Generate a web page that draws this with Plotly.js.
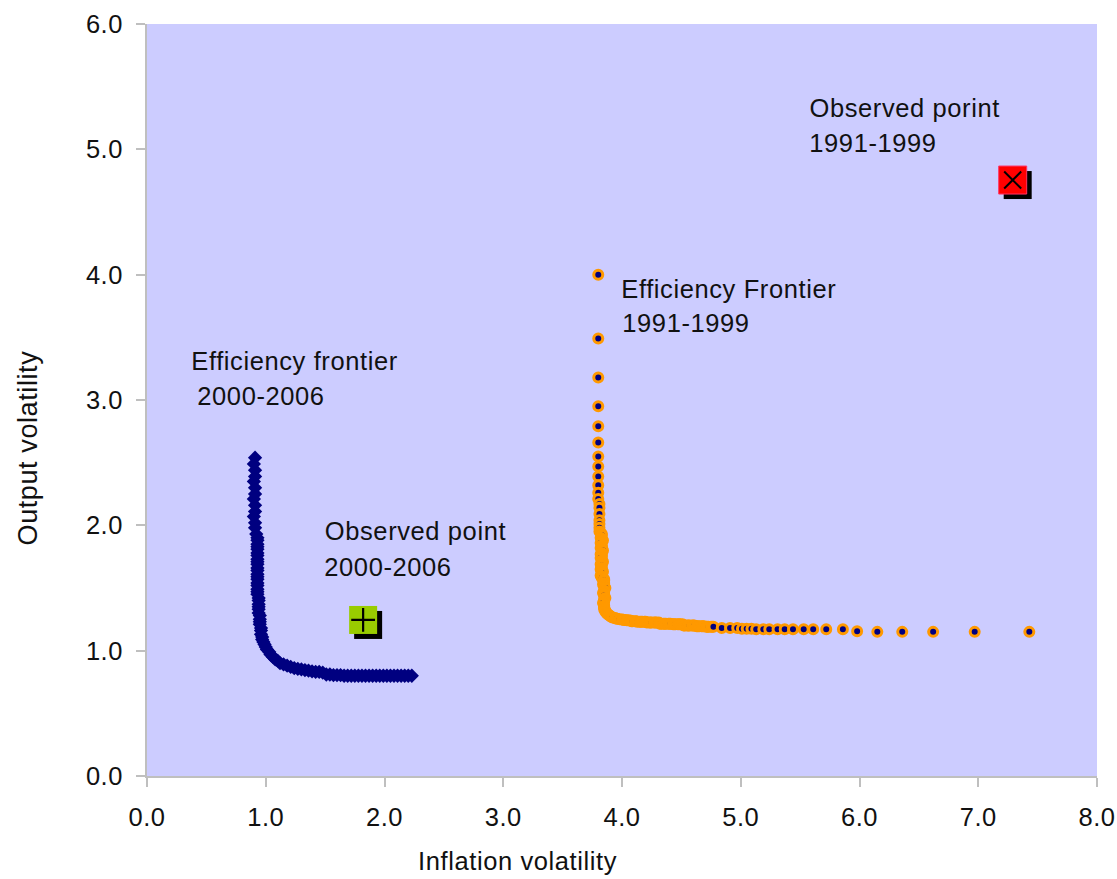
<!DOCTYPE html>
<html>
<head>
<meta charset="utf-8">
<script src="https://cdn.plot.ly/plotly-3.0.1.min.js"></script>
<style>
  html, body { margin: 0; padding: 0; background: #ffffff; }
  #chart { width: 1117px; height: 879px; }
  #chart .annotation-text { letter-spacing: 0.6px; }
  #chart .xtick text, #chart .ytick text { letter-spacing: 0.5px; }
</style>
</head>
<body>
<div id="chart"></div>
<script>
// ---------------- DATA ----------------
// Efficiency frontier 2000-2006 (navy diamonds)
const frontier0006X = [
  0.91,0.90,0.91,0.91,0.90,0.91,0.91,0.90,0.91,0.91,0.90,0.91,0.91,0.92,
  0.93,0.93,0.93,0.93,0.93,0.93,0.93,0.93,0.93,0.93,0.93,0.93,0.93,0.93,0.93,0.93,0.93,0.93,0.93,0.93,
  0.94,0.94,0.94,0.94,0.94,0.94,0.95,0.95,0.95,0.95,0.96,0.96,0.96,0.97,0.97,
  0.98,0.99,1.00,1.01,1.03,1.04,1.06,1.08,1.10,1.12,1.15,1.18,1.21,1.24,1.27,1.30,1.33,1.36,1.39,1.42,1.45,
  1.48,1.51,1.54,1.57,1.60,1.63,1.66,1.69,1.72,1.75,1.78,1.81,1.84,1.87,1.90,1.93,1.96,1.99,2.02,2.05,2.08,2.11,2.14,2.17,2.20,2.23
];
const frontier0006Y = [
  2.54,2.49,2.44,2.39,2.35,2.30,2.25,2.21,2.16,2.11,2.07,2.02,1.98,1.93,
  1.90,1.88,1.85,1.83,1.81,1.78,1.76,1.73,1.71,1.69,1.66,1.64,1.61,1.59,1.57,1.54,1.52,1.49,1.47,1.45,
  1.42,1.40,1.37,1.35,1.33,1.30,1.28,1.25,1.23,1.21,1.18,1.16,1.13,1.11,1.09,
  1.07,1.05,1.03,1.01,0.99,0.97,0.95,0.93,0.92,0.90,0.89,0.88,0.87,0.86,0.855,0.85,0.845,0.84,0.835,0.83,0.83,
  0.825,0.81,0.81,0.805,0.805,0.805,0.80,0.80,0.80,0.80,0.80,0.80,0.80,0.80,0.80,0.80,0.80,0.80,0.80,0.80,0.80,0.80,0.80,0.80,0.80,0.80
];

// Efficiency frontier 1991-1999 (navy dots, orange rim)
// upper branch, read from the top down to the corner
const frontier9199UpperX = [
  3.80,3.80,3.80,3.80,3.80,3.80,3.80,3.80,3.80,3.80,3.80,3.80,3.81,3.81,3.81,3.81,3.81,3.81,3.81,
  3.82,3.83,3.83,3.82,3.83,3.84,3.83,3.82,3.83,3.83,3.82,3.83,3.84,3.83,3.82,3.83,3.83,3.82,3.83,3.84,3.83,3.82,3.83,3.83,3.82,3.83,3.84,3.83,3.82,3.83,3.83,
  3.85,3.85,3.85,3.84,3.85,3.85,3.86,3.85,3.85,3.84,3.85,3.85,3.86,3.85,3.85,3.85,3.84,3.85,3.85,3.85,
  3.85,3.86,3.86,3.87,3.88,3.89,3.90,3.91,3.92,3.94,3.95,3.96,3.98,4.00,4.01,4.02,4.04,4.05,4.07
];
const frontier9199UpperY = [
  4.00,3.49,3.18,2.95,2.79,2.66,2.55,2.47,2.39,2.32,2.26,2.21,2.17,2.14,2.09,2.04,2.01,1.98,1.95,
  1.94,1.93,1.92,1.90,1.89,1.88,1.87,1.86,1.84,1.83,1.82,1.81,1.80,1.78,1.77,1.76,1.75,1.74,1.72,1.71,1.70,1.69,1.68,1.66,1.65,1.64,1.63,1.62,1.60,1.59,1.58,
  1.57,1.56,1.54,1.53,1.52,1.51,1.50,1.48,1.47,1.46,1.45,1.44,1.42,1.41,1.40,1.39,1.38,1.36,1.35,1.34,
  1.33,1.32,1.31,1.30,1.29,1.285,1.277,1.27,1.265,1.26,1.257,1.254,1.25,1.249,1.247,1.245,1.243,1.242,1.24
];
// lower branch, read from the corner out to the far right
const frontier9199LowerX = [
  4.08,4.09,4.11,4.12,4.13,4.15,4.16,4.17,4.19,4.20,4.21,4.23,4.24,4.25,4.27,4.28,4.29,4.31,
  4.32,4.33,4.35,4.36,4.37,4.39,4.40,4.41,4.43,4.44,4.45,4.47,4.48,4.49,4.51,4.52,4.53,4.55,4.56,
  4.57,4.59,4.60,4.61,4.63,4.64,4.65,4.67,4.68,4.69,4.71,4.72,4.73,4.75,4.76,4.77,
  4.84,4.91,4.97,5.01,5.05,5.09,5.13,5.19,5.24,5.31,5.37,5.44,5.53,5.61,5.72,5.86,5.98,6.15,6.36,6.62,6.97,7.43
];
const frontier9199LowerY = [
  1.235,1.235,1.235,1.235,1.23,1.23,1.23,1.23,1.23,1.23,1.225,1.225,1.225,1.225,1.225,1.225,1.225,1.225,
  1.215,1.215,1.215,1.215,1.215,1.215,1.215,1.215,1.21,1.21,1.21,1.21,1.21,1.21,1.21,1.20,1.20,1.20,1.20,
  1.20,1.20,1.20,1.20,1.195,1.195,1.195,1.195,1.195,1.195,1.19,1.19,1.19,1.19,1.19,1.19,
  1.18,1.18,1.18,1.175,1.175,1.175,1.17,1.17,1.17,1.17,1.17,1.17,1.17,1.17,1.17,1.17,1.155,1.15,1.15,1.15,1.15,1.15
];

// Observed points
const observed0006X = [1.82];
const observed0006Y = [1.245];
const observed9199X = [7.29];
const observed9199Y = [4.755];

// Axis ticks
const xTicks = [0,1,2,3,4,5,6,7,8];
const yTicks = [0,1,2,3,4,5,6];

// Texts
const xTitle = 'Inflation volatility';
const yTitle = 'Output volatility';
const labels = [
  {lines: ['Observed porint', '1991-1999'], x: [5.60, 5.585], y: [5.33, 5.05]},
  {lines: ['Efficiency Frontier', '1991-1999'], x: [4.027, 4.005], y: [3.886, 3.614]},
  {lines: ['Efficiency frontier', '2000-2006'], x: [0.405, 0.43], y: [3.311, 3.032]},
  {lines: ['Observed point', '2000-2006'], x: [1.517, 1.50], y: [1.955, 1.668]}
];

// ---------------- STYLE ----------------
const FONT = 'Arial, "Liberation Sans", Helvetica, sans-serif';
const NAVY = '#000080';
const ORANGE = '#FF9900';
const GREEN = '#99CC00';
const RED = '#FF0000';
const AXIS_GREY = '#BFBFBF';
const TEXT = '#111111';

const traces = [
  {
    type: 'scatter', mode: 'markers',
    x: frontier0006X, y: frontier0006Y,
    marker: {symbol: 'diamond', size: 11, color: NAVY, line: {width: 0}},
    hoverinfo: 'x+y'
  },
  {
    type: 'scatter', mode: 'markers',
    x: frontier9199UpperX.concat(frontier9199LowerX),
    y: frontier9199UpperY.concat(frontier9199LowerY),
    marker: {symbol: 'circle', size: 9, color: NAVY, line: {width: 3, color: ORANGE}},
    hoverinfo: 'x+y'
  },
  {
    type: 'scatter', mode: 'markers',
    x: observed0006X, y: observed0006Y,
    marker: {symbol: 'square', size: 28, color: GREEN, line: {width: 0}}
  },
  {
    type: 'scatter', mode: 'markers',
    x: observed0006X, y: observed0006Y,
    marker: {symbol: 'cross-thin', size: 17, color: '#000', line: {width: 2.2, color: '#000'}}
  },
  {
    type: 'scatter', mode: 'markers',
    x: observed9199X, y: observed9199Y,
    marker: {symbol: 'square', size: 28, color: RED, line: {width: 1, color: '#FF3366'}}
  },
  {
    type: 'scatter', mode: 'markers',
    x: observed9199X, y: observed9199Y,
    marker: {symbol: 'x-thin', size: 17, color: '#000', line: {width: 2, color: '#000'}}
  }
];

// drop shadows behind the observed-point squares
function shadow(x, y) {
  return {
    type: 'rect', layer: 'below', xref: 'x', yref: 'y',
    xsizemode: 'pixel', ysizemode: 'pixel', xanchor: x, yanchor: y,
    x0: -9, x1: 19, y0: -19, y1: 9,
    fillcolor: '#000000', line: {width: 0}
  };
}

const annotations = [];
labels.forEach(l => {
  l.lines.forEach((t, i) => {
    annotations.push({
      xref: 'x', yref: 'y',
      x: l.x[i], y: l.y[i],
      text: t, showarrow: false, xanchor: 'left', yanchor: 'middle',
      font: {family: FONT, size: 25.5, color: TEXT}
    });
  });
});
annotations.push({
  xref: 'paper', yref: 'paper', x: 0.3905, y: -0.113,
  text: xTitle, showarrow: false, xanchor: 'center', yanchor: 'middle',
  font: {family: FONT, size: 25.5, color: TEXT}
});
annotations.push({
  xref: 'paper', yref: 'paper', x: -0.125, y: 0.436,
  text: yTitle, showarrow: false, textangle: -90, xanchor: 'center', yanchor: 'middle',
  font: {family: FONT, size: 27, color: TEXT}
});

const axisCommon = {
  showgrid: false, zeroline: false, showline: true, linecolor: AXIS_GREY, linewidth: 2,
  ticks: 'outside', ticklen: 9, tickwidth: 2, tickcolor: AXIS_GREY,
  tickfont: {family: FONT, size: 25.5, color: TEXT},
  tickmode: 'array', fixedrange: true
};

const layout = {
  width: 1117, height: 879,
  margin: {l: 147, r: 20, t: 24, b: 103},
  paper_bgcolor: '#FFFFFF', plot_bgcolor: '#CCCCFF',
  showlegend: false,
  xaxis: Object.assign({}, axisCommon, {range: [0, 8], tickvals: xTicks, ticktext: xTicks.map(v => v.toFixed(1)), ticklabelstandoff: 8}),
  yaxis: Object.assign({}, axisCommon, {range: [0, 6], tickvals: yTicks, ticktext: yTicks.map(v => v.toFixed(1)), ticklabelstandoff: 8}),
  shapes: [shadow(observed0006X[0], observed0006Y[0]), shadow(observed9199X[0], observed9199Y[0])],
  annotations: annotations
};

Plotly.newPlot('chart', traces, layout, {displayModeBar: false, staticPlot: true});
</script>
</body>
</html>
